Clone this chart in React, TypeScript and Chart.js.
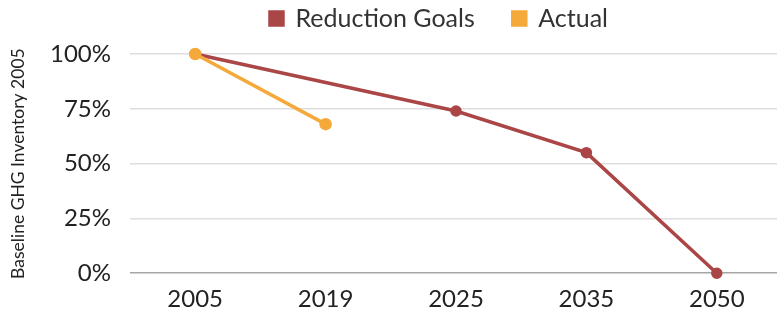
import React, { useEffect, useRef } from "react";
import { Chart, registerables } from "chart.js";

Chart.register(...registerables);

const categories = ["2005", "2019", "2025", "2035", "2050"];
const reductionGoals = [100, null, 74, 55, 0];
const actual = [100, 68, null, null, null];
const yTicks = [0, 25, 50, 75, 100];

const legendShift = {
  id: "legendShift",
  afterLayout(chart: any) {
    const lg = chart.legend;
    if (!lg) return;
    lg.left += 44;
    lg.right += 44;
    lg.top -= 32;
  },
};

export default function App() {
  const ref = useRef<HTMLCanvasElement>(null);
  useEffect(() => {
    document.body.style.margin = "0";
    document.body.style.overflow = "hidden";
    const chart = new Chart(ref.current!, {
      type: "line",
      data: {
        labels: categories,
        datasets: [
          {
            label: "Reduction Goals",
            data: reductionGoals,
            borderColor: "#ab4646",
            backgroundColor: "#ab4646",
            borderWidth: 3.5,
            pointRadius: 4,
            pointHoverRadius: 4,
            spanGaps: true,
            clip: false,
            order: 2,
          },
          {
            label: "Actual",
            data: actual,
            borderColor: "#f4a93a",
            backgroundColor: "#f4a93a",
            borderWidth: 3.5,
            pointRadius: 4.5,
            pointHoverRadius: 4.5,
            spanGaps: false,
            clip: false,
            order: 1,
          },
        ],
      },
      plugins: [legendShift],
      options: {
        animation: false,
        responsive: false,
        layout: { padding: { top: 0, right: 0, bottom: 0, left: 0 } },
        plugins: {
          tooltip: { enabled: false },
          legend: {
            position: "top",
            maxHeight: 54,
            labels: {
              boxWidth: 13,
              boxHeight: 13,
              padding: 38,
              color: "#333",
              font: { family: "Lato", size: 25 },
              sort: (a: any, b: any) => a.datasetIndex - b.datasetIndex,
            },
          },
        },
        scales: {
          x: {
            offset: true,
            grid: { display: false },
            border: { display: false },
            ticks: {
              color: "#222",
              padding: 4,
              font: { family: "Lato", size: 24 },
            },
          },
          y: {
            min: 0,
            max: 100,
            afterBuildTicks: (s: any) => {
              s.ticks = yTicks.map((v) => ({ value: v }));
            },
            afterFit: (s: any) => {
              s.width = 130;
            },
            border: { display: false },
            grid: {
              color: (ctx: any) => (ctx.tick && ctx.tick.value === 0 ? "#a6a6a6" : "#dedede"),
              lineWidth: 1.5,
              drawTicks: false,
            },
            ticks: {
              color: "#222",
              padding: 19,
              font: { family: "Lato", size: 24 },
              callback: (v: any) => v + "%",
            },
            title: {
              display: true,
              text: "Baseline GHG Inventory 2005",
              color: "#222",
              font: { family: "Lato", size: 17.5 },
              padding: { top: 8, bottom: 0 },
            },
          },
        },
      },
    });
    return () => chart.destroy();
  }, []);
  return (
    <div style={{ width: 777, height: 309, overflow: "hidden", position: "relative" }}>
      <canvas ref={ref} width={790} height={318} style={{ display: "block" }} />
    </div>
  );
}
